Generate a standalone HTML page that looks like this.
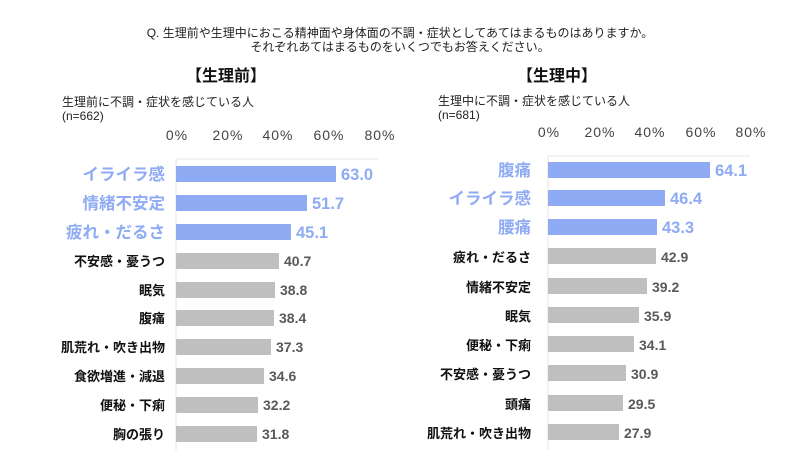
<!DOCTYPE html>
<html><head><meta charset="utf-8"><style>
body{margin:0;width:800px;height:450px;background:#fff;overflow:hidden;font-family:"Liberation Sans","Noto Sans CJK JP",sans-serif;}
</style></head><body>
<svg width="800" height="450" xmlns="http://www.w3.org/2000/svg" font-family="Liberation Sans, Noto Sans CJK JP, sans-serif">
<text x="400" y="37" font-size="12" text-anchor="middle" fill="#222">Q. 生理前や生理中におこる精神面や身体面の不調・症状としてあてはまるものはありますか。</text>
<text x="400" y="51" font-size="12" text-anchor="middle" fill="#222">それぞれあてはまるものをいくつでもお答えください。</text>
<text x="226" y="81" font-size="16" font-weight="bold" text-anchor="middle" fill="#111">【生理前】</text>
<text x="557" y="81" font-size="16" font-weight="bold" text-anchor="middle" fill="#111">【生理中】</text>
<text x="62" y="106" font-size="12" fill="#222">生理前に不調・症状を感じている人</text>
<text x="62" y="120" font-size="12" fill="#222">(n=662)</text>
<text x="438" y="105" font-size="12" fill="#222">生理中に不調・症状を感じている人</text>
<text x="438" y="119" font-size="12" fill="#222">(n=681)</text>
<g font-size="14" fill="#444" text-anchor="middle" letter-spacing="1">
<text x="177" y="140">0%</text><text x="228" y="140">20%</text><text x="278" y="140">40%</text><text x="329" y="140">60%</text><text x="380" y="140">80%</text>
<text x="549" y="137">0%</text><text x="600" y="137">20%</text><text x="650" y="137">40%</text><text x="701" y="137">60%</text><text x="751" y="137">80%</text>
</g>
<line x1="176" y1="159" x2="378" y2="159" stroke="#e4e4e4"/>
<line x1="176" y1="159" x2="176" y2="450" stroke="#e4e4e4"/>
<line x1="548" y1="156" x2="750" y2="156" stroke="#e4e4e4"/>
<line x1="548" y1="156" x2="548" y2="450" stroke="#e4e4e4"/>
<g>
<rect x="176" y="166" width="160" height="16" fill="#8eabf4"/>
<rect x="176" y="195" width="131" height="16" fill="#8eabf4"/>
<rect x="176" y="224" width="115" height="16" fill="#8eabf4"/>
<rect x="176" y="253" width="103" height="16" fill="#bfbfbf"/>
<rect x="176" y="282" width="99" height="16" fill="#bfbfbf"/>
<rect x="176" y="310" width="98" height="16" fill="#bfbfbf"/>
<rect x="176" y="339" width="95" height="16" fill="#bfbfbf"/>
<rect x="176" y="368" width="88" height="16" fill="#bfbfbf"/>
<rect x="176" y="397" width="82" height="16" fill="#bfbfbf"/>
<rect x="176" y="426" width="81" height="16" fill="#bfbfbf"/>
</g>
<g font-weight="bold" text-anchor="end">
<g font-size="16.5" fill="#8eabf4">
<text x="165" y="180">イライラ感</text><text x="165" y="209">情緒不安定</text><text x="165" y="238">疲れ・だるさ</text></g>
<g font-size="13" fill="#111">
<text x="165" y="266">不安感・憂うつ</text><text x="165" y="295">眠気</text><text x="165" y="323">腹痛</text><text x="165" y="352">肌荒れ・吹き出物</text><text x="165" y="381">食欲増進・減退</text><text x="165" y="410">便秘・下痢</text><text x="165" y="439">胸の張り</text></g>
</g>
<g font-weight="bold">
<g font-size="16.5" fill="#8eabf4">
<text x="341" y="180">63.0</text><text x="312" y="209">51.7</text><text x="296" y="238">45.1</text></g>
<g font-size="14" fill="#595959">
<text x="284" y="266">40.7</text><text x="280" y="295">38.8</text><text x="279" y="323">38.4</text><text x="276" y="352">37.3</text><text x="269" y="381">34.6</text><text x="263" y="410">32.2</text><text x="262" y="439">31.8</text></g>
</g>
<g>
<rect x="548" y="162" width="162" height="16" fill="#8eabf4"/>
<rect x="548" y="190" width="117" height="16" fill="#8eabf4"/>
<rect x="548" y="219" width="109" height="16" fill="#8eabf4"/>
<rect x="548" y="248" width="108" height="16" fill="#bfbfbf"/>
<rect x="548" y="278" width="99" height="16" fill="#bfbfbf"/>
<rect x="548" y="307" width="91" height="16" fill="#bfbfbf"/>
<rect x="548" y="336" width="86" height="16" fill="#bfbfbf"/>
<rect x="548" y="365" width="78" height="16" fill="#bfbfbf"/>
<rect x="548" y="395" width="75" height="16" fill="#bfbfbf"/>
<rect x="548" y="424" width="71" height="16" fill="#bfbfbf"/>
</g>
<g font-weight="bold" text-anchor="end">
<g font-size="16.5" fill="#8eabf4">
<text x="531" y="176">腹痛</text><text x="531" y="204">イライラ感</text><text x="531" y="233">腰痛</text></g>
<g font-size="13" fill="#111">
<text x="531" y="262">疲れ・だるさ</text><text x="531" y="292">情緒不安定</text><text x="531" y="321">眠気</text><text x="531" y="350">便秘・下痢</text><text x="531" y="379">不安感・憂うつ</text><text x="531" y="409">頭痛</text><text x="531" y="438">肌荒れ・吹き出物</text></g>
</g>
<g font-weight="bold">
<g font-size="16.5" fill="#8eabf4">
<text x="715" y="176">64.1</text><text x="670" y="204">46.4</text><text x="662" y="233">43.3</text></g>
<g font-size="14" fill="#595959">
<text x="661" y="262">42.9</text><text x="652" y="292">39.2</text><text x="644" y="321">35.9</text><text x="639" y="350">34.1</text><text x="631" y="379">30.9</text><text x="628" y="409">29.5</text><text x="624" y="438">27.9</text></g>
</g>
</svg>
</body></html>
